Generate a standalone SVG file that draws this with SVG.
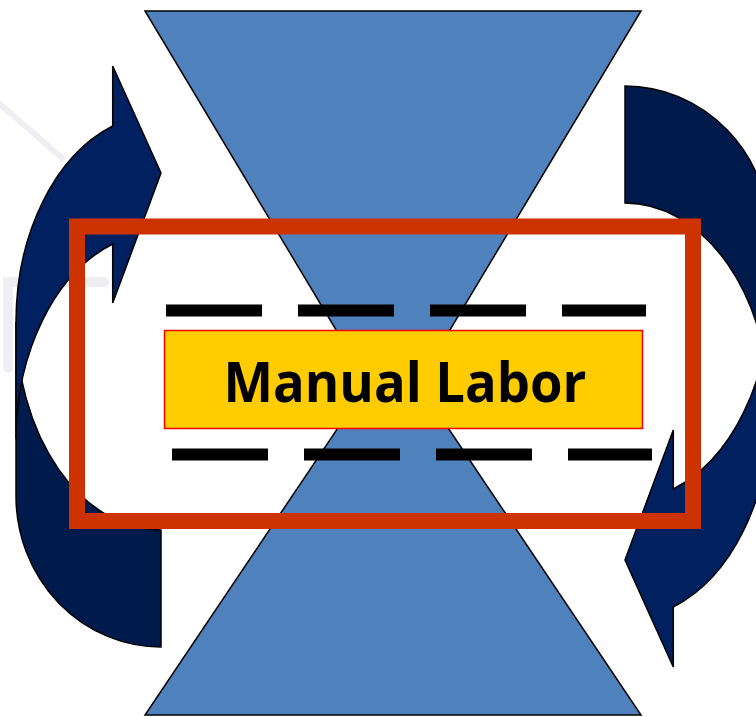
<svg xmlns="http://www.w3.org/2000/svg" width="756" height="717" viewBox="0 0 756 717">
  <style>
    .tri { fill: #4F81BD; stroke: #000; stroke-width: 1.5; stroke-linejoin: miter; }
    .front { fill: #002060; stroke: #000; stroke-width: 1.5; stroke-linejoin: miter; }
    .back { fill: #001B4B; stroke: #000; stroke-width: 1.5; stroke-linejoin: miter; }
    .dash { stroke: #000; stroke-width: 12; stroke-dasharray: 96 36; fill: none; }
    .wm { fill: none; stroke: #EEEEF3; stroke-linecap: round; }
  </style>
  <defs>
    <g id="curved-arrow">
      <path class="back" d="M 16,322 L 16,496 A 145 151 0 0 0 161,647 L 161,530 A 145 208 0 0 1 16,322 Z"/>
      <path class="front" d="M 112.7,126 L 112.7,66 L 161,173 L 112.7,303 L 112.7,244 A 145 208 0 0 0 16,439 L 16,322 A 145 208 0 0 1 112.7,126 Z"/>
    </g>
  </defs>
  <rect width="756" height="717" fill="#FFFFFF"/>
  <g id="watermark">
    <path class="wm" stroke-width="6" d="M 0,104 L 62,158"/>
    <path class="wm" stroke-width="10" d="M 104,282 L 8,282 L 8,368"/>
  </g>
  <g id="hourglass-top">
    <polygon class="tri" points="145,11 641,11 393,425"/>
  </g>
  <g id="hourglass-bottom">
    <polygon class="tri" points="393,346 641,715 145,715"/>
  </g>
  <g id="arrow-left">
    <use href="#curved-arrow"/>
  </g>
  <g id="arrow-right">
    <use href="#curved-arrow" transform="rotate(180 393 366.5)"/>
  </g>
  <g id="frame">
    <rect x="77" y="226.5" width="616" height="294.5" fill="none" stroke="#CC3300" stroke-width="16"/>
  </g>
  <g id="connectors">
    <line class="dash" x1="166" y1="310.5" x2="646" y2="310.5"/>
    <line class="dash" x1="172" y1="454.5" x2="652" y2="454.5"/>
  </g>
  <g id="label">
    <rect x="164.5" y="330.5" width="478" height="98" fill="#FFCC00" stroke="#FF0000" stroke-width="1.5"/>
    <text x="223.5" y="401.5" font-family="'Open Sans', 'Noto Sans', 'Liberation Sans', sans-serif" font-weight="bold" font-size="56" fill="#000" textLength="363" lengthAdjust="spacingAndGlyphs">Manual Labor</text>
  </g>
</svg>
